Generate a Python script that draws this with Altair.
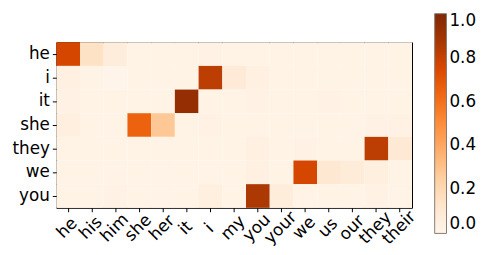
import altair as alt
import pandas as pd

rows = ["he", "i", "it", "she", "they", "we", "you"]
cols = ["he", "his", "him", "she", "her", "it", "i", "my", "you", "your", "we", "us", "our", "they", "their"]

row_he   = [0.76, 0.15, 0.07, 0.02, 0.02, 0.02, 0.03, 0.02, 0.02, 0.02, 0.02, 0.02, 0.02, 0.02, 0.02]
row_i    = [0.04, 0.02, 0.01, 0.02, 0.02, 0.02, 0.82, 0.09, 0.04, 0.02, 0.02, 0.02, 0.02, 0.02, 0.02]
row_it   = [0.03, 0.02, 0.02, 0.02, 0.02, 0.93, 0.02, 0.02, 0.03, 0.02, 0.02, 0.03, 0.02, 0.02, 0.02]
row_she  = [0.05, 0.02, 0.02, 0.65, 0.28, 0.02, 0.03, 0.02, 0.02, 0.02, 0.02, 0.02, 0.02, 0.03, 0.03]
row_they = [0.02, 0.02, 0.02, 0.02, 0.02, 0.02, 0.02, 0.02, 0.04, 0.02, 0.03, 0.02, 0.02, 0.82, 0.10]
row_we   = [0.02, 0.02, 0.02, 0.02, 0.02, 0.02, 0.02, 0.02, 0.04, 0.02, 0.76, 0.11, 0.08, 0.05, 0.02]
row_you  = [0.02, 0.02, 0.03, 0.02, 0.02, 0.02, 0.05, 0.02, 0.86, 0.07, 0.02, 0.02, 0.02, 0.03, 0.02]

matrix = [row_he, row_i, row_it, row_she, row_they, row_we, row_you]

records = []
for r, vals in zip(rows, matrix):
    for c, v in zip(cols, vals):
        records.append({"row": r, "col": c, "value": v})
df = pd.DataFrame(records)

oranges = ["#fff5eb", "#fee6ce", "#fdd0a2", "#fdae6b", "#fd8d3c",
           "#f16913", "#d94801", "#a63603", "#7f2704"]
stops = [i / 8 for i in range(9)]

FONT = "DejaVu Sans"
FS = 17

chart = alt.Chart(df).mark_rect(strokeWidth=0).encode(
    x=alt.X("col:N", sort=cols, title=None,
            scale=alt.Scale(paddingInner=0, paddingOuter=0),
            axis=alt.Axis(labelAngle=-45, labelAlign="center", labelBaseline="middle",
                          labelFontSize=FS, labelFont=FONT, labelColor="black",
                          tickColor="black", tickSize=4, labelPadding=16,
                          labelOffset=-1, domain=False, labelOverlap=False,
                          labelBound=False)),
    y=alt.Y("row:N", sort=rows, title=None,
            scale=alt.Scale(paddingInner=0, paddingOuter=0),
            axis=alt.Axis(labelFontSize=FS, labelFont=FONT, labelColor="black",
                          tickColor="black", tickSize=4, labelPadding=3,
                          domain=False)),
    color=alt.Color("value:Q", title=None,
                    scale=alt.Scale(domain=stops, range=oranges, interpolate="rgb"),
                    legend=alt.Legend(orient="none", legendX=384, legendY=-29,
                                      gradientLength=223, gradientThickness=12,
                                      gradientStrokeColor="#8a7a70", gradientStrokeWidth=1,
                                      values=[0, 0.2, 0.4, 0.6, 0.8, 1.0], format=".1f",
                                      labelFontSize=FS, labelFont=FONT, labelColor="black",
                                      labelOffset=3, direction="vertical")),
).properties(
    width=361, height=168,
    autosize=alt.AutoSizeParams(type="none"),
    padding={"left": 49, "top": 33, "right": 70, "bottom": 38},
).configure_view(
    stroke="black", strokeWidth=1
)

chart.save("out.html", embed_options={"renderer": "svg", "actions": False})
